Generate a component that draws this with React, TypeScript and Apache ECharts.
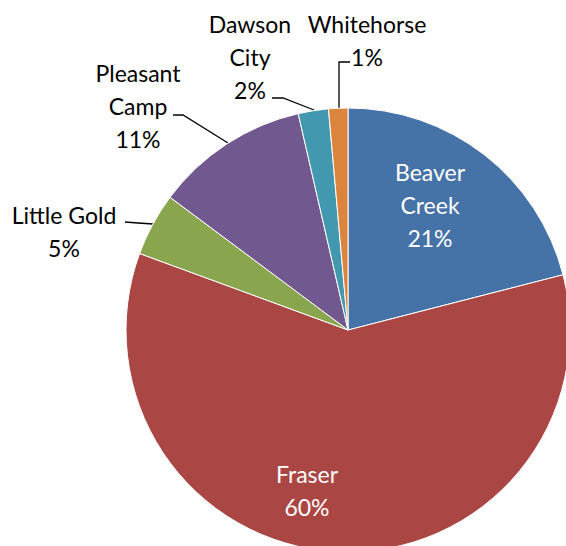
import React, { useEffect, useRef } from "react";
import * as echarts from "echarts";

const categories = ["Beaver Creek", "Fraser", "Little Gold", "Pleasant Camp", "Dawson City", "Whitehorse"];
const values = [21.0, 59.6, 4.6, 11.2, 2.2, 1.4];
const colors = ["#4572A7", "#AA4643", "#89A54E", "#71588F", "#4198AF", "#DB843D"];
const labelNames = ["Beaver\nCreek", "Fraser", "Little Gold", "Pleasant\nCamp", "Dawson\nCity", "Whitehorse"];
const insideSlices = ["Beaver Creek", "Fraser"];

// label placement (layout only)
const labelLayoutMap: Record<string, { x: number; y: number; line?: number[][] }> = {
  "Beaver Creek": { x: 430, y: 205 },
  Fraser: { x: 307, y: 490 },
  "Little Gold": { x: 64, y: 231, line: [[125, 222], [138, 223], [153, 224]] },
  "Pleasant Camp": { x: 138, y: 106, line: [[173, 115], [183, 115], [228, 143]] },
  "Dawson City": { x: 250, y: 57, line: [[272, 98], [283, 98], [314, 110]] },
  Whitehorse: { x: 367, y: 40, line: [[350, 62], [339, 62], [339, 108]] },
};

export default function App() {
  const ref = useRef<HTMLDivElement>(null);
  useEffect(() => {
    if (!ref.current) return;
    const chart = echarts.init(ref.current, null, { renderer: "svg" });
    const data = categories.map((name, i) => {
      const inside = insideSlices.includes(name);
      return {
        name,
        value: values[i],
        itemStyle: { color: colors[i] },
        label: {
          color: inside ? "#ffffff" : "#000000",
        },
        labelLine: { show: !inside },
      };
    });
    chart.setOption({
      animation: false,
      backgroundColor: "#ffffff",
      series: [
        {
          type: "pie",
          center: [348, 330],
          radius: 222,
          startAngle: 90,
          clockwise: true,
          avoidLabelOverlap: false,
          itemStyle: { borderColor: "#ffffff", borderWidth: 1 },
          label: {
            show: true,
            position: "outside",
            fontFamily: "Lato",
            fontSize: 23,
            lineHeight: 33,
            align: "center",
            verticalAlign: "middle",
            formatter: (p: any) => {
              const idx = categories.indexOf(p.name);
              return labelNames[idx] + "\n" + Math.round(p.percent) + "%";
            },
          },
          labelLine: {
            show: true,
            lineStyle: { color: "#000000", width: 1.3 },
          },
          labelLayout: (params: any) => {
            const name = categories[params.dataIndex];
            const l = labelLayoutMap[name];
            const res: any = { x: l.x, y: l.y, align: "center", verticalAlign: "middle" };
            if (l.line) res.labelLinePoints = l.line;
            return res;
          },
          emphasis: { disabled: true },
          data,
        },
      ],
    });
    return () => chart.dispose();
  }, []);
  return (
    <div
      ref={ref}
      style={{ position: "absolute", left: 0, top: 0, width: 566, height: 546 }}
    />
  );
}
